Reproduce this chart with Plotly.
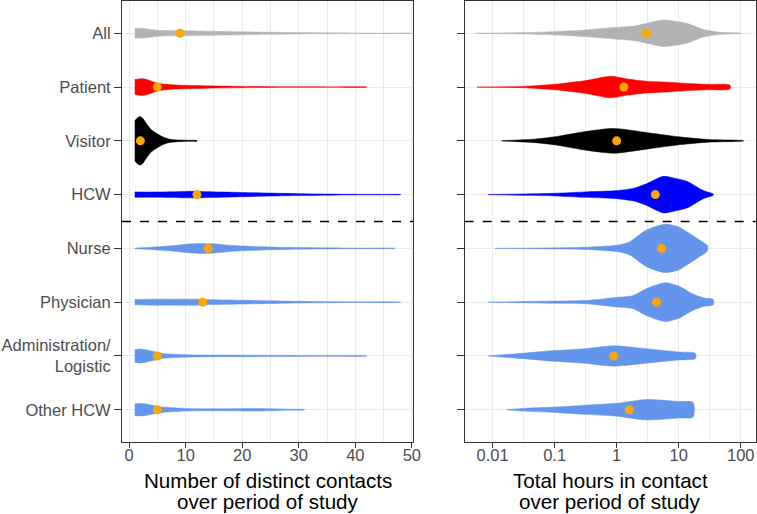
import plotly.graph_objects as go

# categories, top to bottom
groups = ['All', 'Patient', 'Visitor', 'HCW', 'Nurse', 'Physician',
          'Administration/<br>Logistic', 'Other HCW']
group_colors = ['#B3B3B3', '#FF0000', '#000000', '#0000FF',
                '#6495ED', '#6495ED', '#6495ED', '#6495ED']

# number of distinct contacts: density profile (x, half width)
contacts_x = [
    [1, 2, 3, 4, 5, 6, 8, 10, 12, 15, 20, 25, 30, 35, 40, 45, 50],
    [1, 2, 2.5, 3, 4, 5, 6, 8, 10, 14, 18, 22, 26, 30, 35, 42],
    [1, 1.5, 2, 2.5, 3, 3.5, 4, 5, 6, 7, 8, 9, 10, 11, 12],
    [1, 3, 5, 8, 10, 12, 14, 17, 20, 25, 30, 35, 40, 45, 48],
    [1, 3, 5, 7, 9, 11, 13, 15, 17, 20, 25, 30, 35, 40, 47],
    [1, 4, 8, 12, 15, 20, 25, 30, 35, 40, 48],
    [1, 2, 3, 4, 5, 6, 8, 10, 15, 20, 25, 30, 35, 42],
    [1, 2, 3, 4, 5, 6, 8, 10, 12, 15, 18, 22, 25, 28, 31],
]
contacts_w = [
    [0.09, 0.092, 0.085, 0.07, 0.055, 0.05, 0.048, 0.046, 0.043, 0.036, 0.027, 0.019, 0.012, 0.008, 0.005, 0.003, 0.002],
    [0.14, 0.155, 0.155, 0.145, 0.11, 0.075, 0.055, 0.04, 0.032, 0.022, 0.015, 0.01, 0.007, 0.005, 0.003, 0.002],
    [0.37, 0.43, 0.45, 0.41, 0.33, 0.26, 0.2, 0.13, 0.07, 0.035, 0.02, 0.015, 0.012, 0.01, 0.006],
    [0.05, 0.048, 0.05, 0.055, 0.06, 0.06, 0.055, 0.048, 0.04, 0.028, 0.018, 0.01, 0.006, 0.004, 0.002],
    [0.005, 0.015, 0.03, 0.045, 0.065, 0.085, 0.093, 0.085, 0.065, 0.045, 0.025, 0.015, 0.01, 0.005, 0.002],
    [0.05, 0.055, 0.055, 0.055, 0.045, 0.035, 0.025, 0.015, 0.01, 0.006, 0.002],
    [0.12, 0.13, 0.115, 0.09, 0.065, 0.045, 0.03, 0.022, 0.016, 0.014, 0.012, 0.01, 0.007, 0.003],
    [0.11, 0.115, 0.105, 0.085, 0.065, 0.05, 0.035, 0.025, 0.02, 0.018, 0.02, 0.025, 0.02, 0.01, 0.004],
]
contacts_median = [9, 5, 2, 12, 14, 13, 5, 5]

# total hours in contact (log scale)
hours_x = [
    [0.0055, 0.03, 0.1, 0.3, 1, 1.9, 3.2, 5.4, 8, 13.5, 25, 47, 100],
    [0.0056, 0.03, 0.1, 0.3, 0.8, 1.5, 3, 7, 15, 30, 67],
    [0.014, 0.05, 0.1, 0.3, 0.9, 3, 10, 30, 110],
    [0.0085, 0.03, 0.1, 0.3, 1, 1.9, 3, 5.6, 9, 13.5, 25, 36],
    [0.011, 0.1, 0.3, 1, 1.6, 3, 6, 10, 13.5, 22, 29],
    [0.0085, 0.1, 0.3, 0.6, 1, 1.8, 3, 6, 10, 17, 25, 36],
    [0.0085, 0.03, 0.1, 0.3, 0.9, 3, 10, 18.5],
    [0.017, 0.03, 0.1, 0.3, 1, 3, 10, 17],
]
hours_w = [
    [0.002, 0.012, 0.03, 0.06, 0.11, 0.135, 0.19, 0.245, 0.23, 0.185, 0.07, 0.02, 0.003],
    [0.002, 0.012, 0.05, 0.115, 0.2, 0.15, 0.11, 0.09, 0.065, 0.05, 0.037],
    [0.002, 0.035, 0.075, 0.17, 0.23, 0.155, 0.075, 0.025, 0.003],
    [0.002, 0.012, 0.025, 0.05, 0.075, 0.12, 0.2, 0.34, 0.3, 0.25, 0.075, 0.01],
    [0.002, 0.01, 0.02, 0.06, 0.12, 0.34, 0.45, 0.4, 0.31, 0.15, 0.05],
    [0.002, 0.02, 0.03, 0.06, 0.09, 0.12, 0.25, 0.36, 0.3, 0.15, 0.08, 0.05],
    [0.002, 0.05, 0.1, 0.135, 0.19, 0.135, 0.075, 0.05],
    [0.005, 0.025, 0.05, 0.085, 0.12, 0.19, 0.155, 0.135],
]
hours_median = [3.0, 1.3, 1.0, 4.2, 5.3, 4.4, 0.9, 1.6]

fig = go.Figure()

def add_violins(xs_all, ws_all, medians, xref, yref):
    for i, (xs, ws) in enumerate(zip(xs_all, ws_all)):
        pos = i + 1
        fig.add_trace(go.Scatter(
            x=list(xs) + list(xs[::-1]),
            y=[pos - w for w in ws] + [pos + w for w in ws[::-1]],
            fill='toself',
            fillcolor=group_colors[i],
            line=dict(color=group_colors[i], width=0.5, shape='spline', smoothing=0.7),
            mode='lines',
            xaxis=xref, yaxis=yref,
            showlegend=False,
            hoverinfo='skip'
        ))
    # medians
    fig.add_trace(go.Scatter(
        x=medians,
        y=list(range(1, len(medians) + 1)),
        mode='markers',
        marker=dict(color='#FFA500', size=9),
        xaxis=xref, yaxis=yref,
        showlegend=False
    ))

add_violins(contacts_x, contacts_w, contacts_median, 'x', 'y')
add_violins(hours_x, hours_w, hours_median, 'x2', 'y2')

grid = '#EBEBEB'
frame = '#333333'
font_family = 'Liberation Sans, Arial'
tick_font = dict(family=font_family, size=16.5, color='#4D4D4D')

common_x = dict(
    showline=True, mirror=True, linecolor=frame, linewidth=1,
    ticks='outside', ticklen=5, tickcolor=frame,
    showgrid=True, gridcolor=grid, gridwidth=1,
    zeroline=False, tickfont=tick_font, automargin=False,
    ticklabelstandoff=-7
)
common_y = dict(
    showline=True, mirror=True, linecolor=frame, linewidth=1,
    ticks='outside', ticklen=7, tickcolor=frame,
    showgrid=True, gridcolor=grid, gridwidth=1,
    zeroline=False, range=[8.6, 0.4], automargin=False,
    tickvals=list(range(1, len(groups) + 1)),
)

# axis titles as two separate lines (tighter line spacing than <br>)
titles = [
    (0.2295, ['Number of distinct contacts', 'over period of study']),
    (0.77, ['Total hours in contact', 'over period of study']),
]
annotations = []
for xc, lines in titles:
    for j, line in enumerate(lines):
        annotations.append(dict(
            text=line, xref='paper', yref='paper', x=xc, y=-0.088 - 0.047 * j,
            xanchor='center', yanchor='middle', showarrow=False,
            font=dict(family=font_family, size=20.6, color='black')
        ))

fig.update_layout(
    width=757, height=514,
    margin=dict(l=122, r=1, t=1, b=72),
    plot_bgcolor='white', paper_bgcolor='white',
    xaxis=dict(
        common_x, domain=[0, 0.459], range=[-1.25, 50.2],
        tickvals=[0, 10, 20, 30, 40, 50],
        minor=dict(tickvals=[5, 15, 25, 35, 45], showgrid=True,
                   gridcolor=grid, gridwidth=0.6, ticks=''),
    ),
    xaxis2=dict(
        common_x, domain=[0.5405, 0.9995], type='log', range=[-2.45, 2.24],
        tickvals=[0.01, 0.1, 1, 10, 100],
        ticktext=['0.01', '0.1', '1', '10', '100'],
        minor=dict(tickvals=[10 ** -2.5, 10 ** -1.5, 10 ** -0.5, 10 ** 0.5, 10 ** 1.5],
                   showgrid=True, gridcolor=grid, gridwidth=0.6, ticks=''),
    ),
    yaxis=dict(common_y, anchor='x', ticktext=groups, tickfont=tick_font),
    yaxis2=dict(common_y, anchor='x2', showticklabels=False),
    annotations=annotations,
    shapes=[
        dict(type='line', xref='x domain', yref='y', x0=0, x1=1, y0=4.5, y1=4.5,
             line=dict(color='black', width=1.5, dash='dash')),
        dict(type='line', xref='x2 domain', yref='y2', x0=0, x1=1, y0=4.5, y1=4.5,
             line=dict(color='black', width=1.5, dash='dash')),
    ]
)

# drop the default page margin so the figure sits at the window corner
fig.write_html("out.html", config={'displayModeBar': False},
               post_script="document.body.style.margin='0';")
